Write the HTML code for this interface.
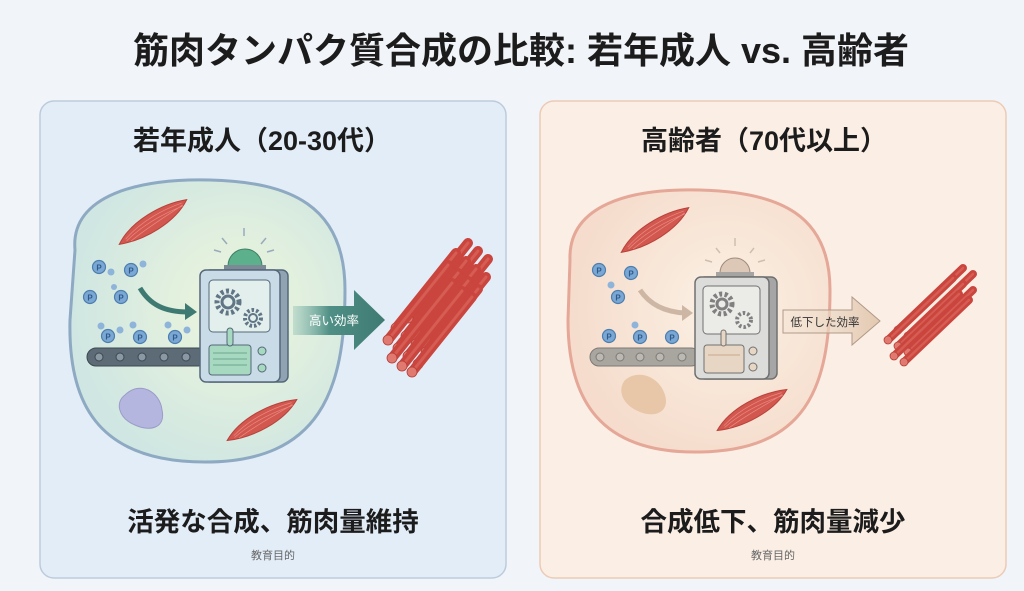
<!DOCTYPE html>
<html><head><meta charset="utf-8"><style>
body{margin:0;background:#f1f4f8;}
svg{display:block;font-family:"Liberation Sans","Noto Sans CJK JP",sans-serif;}
</style></head><body>
<svg width="1024" height="591" viewBox="0 0 1024 591" xmlns="http://www.w3.org/2000/svg">
<defs>
<radialGradient id="gL" cx="0.6" cy="0.45" r="0.6"><stop offset="0" stop-color="#eef6dc"/><stop offset="1" stop-color="#cfe6e2"/></radialGradient>
<radialGradient id="gR" cx="0.6" cy="0.45" r="0.6"><stop offset="0" stop-color="#fbf1e4"/><stop offset="1" stop-color="#f5dccc"/></radialGradient>
<linearGradient id="aL" x1="0" x2="1"><stop offset="0" stop-color="#8fc0b4" stop-opacity="0.4"/><stop offset="0.4" stop-color="#4f8f85"/><stop offset="1" stop-color="#3e7a72"/></linearGradient>
<linearGradient id="aR" x1="0" x2="1"><stop offset="0" stop-color="#f3e4d4" stop-opacity="0.4"/><stop offset="1" stop-color="#e2c8b0"/></linearGradient>
<g id="muscle"><path d="M-40,6 C-20,-10 15,-13 40,-6 C20,10 -15,13 -40,6Z" fill="#d2574f" stroke="#b8423b" stroke-width="1"/><path d="M-32,4 C-10,-6 15,-7 34,-5 M-32,6 C-10,-2 15,-3 34,-2 M-28,8 C-5,2 18,0 34,-3" stroke="#e88a80" stroke-width="0.7" fill="none"/></g>
<g id="rod"><line x1="0" y1="0" x2="60" y2="-75" stroke="#c9453d" stroke-width="10" stroke-linecap="round"/><line x1="0" y1="0" x2="60" y2="-75" stroke="#e06d62" stroke-width="3" stroke-linecap="round" opacity="0.6"/><circle r="5" fill="#e07a70" stroke="#b83c35" stroke-width="0.8"/></g>
<g id="rod2"><line x1="0" y1="0" x2="65" y2="-62" stroke="#c9453d" stroke-width="8" stroke-linecap="round"/><line x1="0" y1="0" x2="65" y2="-62" stroke="#e06d62" stroke-width="2.5" stroke-linecap="round" opacity="0.6"/><circle r="4" fill="#e07a70" stroke="#b83c35" stroke-width="0.8"/></g>
<g id="p"><circle r="6.5" fill="#7aa7d4" stroke="#4d7eae" stroke-width="1.2"/><text y="3.5" font-size="8" font-weight="bold" text-anchor="middle" fill="#2d5a88">P</text></g>
</defs>
<rect width="1024" height="591" fill="#f1f4f8"/>
<text x="521" y="63" font-size="36" font-weight="bold" text-anchor="middle" fill="#1c1c1c">筋肉タンパク質合成の比較: 若年成人 vs. 高齢者</text>

<!-- Left panel -->
<rect x="40" y="101" width="466" height="477" rx="14" fill="#e3edf8" stroke="#bccbdc" stroke-width="1.5"/>
<text x="262" y="150" font-size="27" font-weight="bold" text-anchor="middle" fill="#1c1c1c">若年成人（20-30代）</text>
<path d="M75,250 C70,195 140,178 210,180 C290,182 345,205 345,290 C345,390 320,462 205,462 C95,462 68,400 70,320Z" fill="url(#gL)" stroke="#8ea9c2" stroke-width="3"/>
<use href="#muscle" transform="translate(153,222) rotate(-25)"/>
<use href="#muscle" transform="translate(262,420) rotate(-22)"/>
<path d="M125,395 C140,380 160,392 162,410 C166,428 150,432 135,425 C118,418 115,402 125,395Z" fill="#b5b6e0" stroke="#9a9cc8"/>
<use href="#p" transform="translate(99,267)"/><use href="#p" transform="translate(131,270)"/><use href="#p" transform="translate(90,297)"/><use href="#p" transform="translate(121,297)"/>
<circle cx="111" cy="272" r="3.5" fill="#8fb4da"/><circle cx="143" cy="264" r="3.5" fill="#8fb4da"/><circle cx="114" cy="287" r="3" fill="#8fb4da"/>
<use href="#p" transform="translate(108,336)"/><use href="#p" transform="translate(140,337)"/><use href="#p" transform="translate(175,337)"/>
<circle cx="101" cy="326" r="3.5" fill="#8fb4da"/><circle cx="120" cy="330" r="3.5" fill="#8fb4da"/><circle cx="133" cy="325" r="3.5" fill="#8fb4da"/><circle cx="168" cy="325" r="3.5" fill="#8fb4da"/><circle cx="187" cy="330" r="3.5" fill="#8fb4da"/>
<path d="M140,288 C150,305 165,312 188,312" stroke="#3e7a72" stroke-width="5" fill="none"/><path d="M185,303 L197,312 L185,320Z" fill="#3e7a72"/>
<rect x="87" y="348" width="120" height="18" rx="9" fill="#5d6b77" stroke="#3d4852"/>
<g fill="#8a98a4" stroke="#3d4852"><circle cx="99" cy="357" r="4"/><circle cx="120" cy="357" r="4"/><circle cx="142" cy="357" r="4"/><circle cx="164" cy="357" r="4"/><circle cx="186" cy="357" r="4"/></g>
<g stroke="#9ab" stroke-width="1.5"><line x1="244" y1="228" x2="244" y2="236"/><line x1="222" y1="238" x2="227" y2="244"/><line x1="266" y1="238" x2="261" y2="244"/><line x1="214" y1="250" x2="221" y2="252"/><line x1="274" y1="250" x2="267" y2="252"/></g>
<path d="M228,266 A17,17 0 0 1 262,266Z" fill="#5cb08c" stroke="#3f7f66"/>
<rect x="224" y="265" width="42" height="6" fill="#7c8a96"/>
<rect x="204" y="270" width="84" height="112" rx="6" fill="#8fa3b2" stroke="#55687a" stroke-width="1.5"/>
<rect x="200" y="270" width="80" height="112" rx="6" fill="#c8dbe6" stroke="#55687a" stroke-width="1.5"/>
<rect x="209" y="280" width="61" height="52" rx="4" fill="#e3efec" stroke="#55687a"/>
<circle cx="228" cy="302" r="11" fill="none" stroke="#607585" stroke-width="5" stroke-dasharray="3 2.5"/><circle cx="228" cy="302" r="6" fill="none" stroke="#607585" stroke-width="3"/>
<circle cx="253" cy="318" r="8" fill="none" stroke="#607585" stroke-width="4" stroke-dasharray="2.5 2"/><circle cx="253" cy="318" r="4" fill="none" stroke="#607585" stroke-width="2"/>
<rect x="209" y="345" width="42" height="30" rx="3" fill="#a7d8c0" stroke="#55687a"/>
<g stroke="#6ea88e"><line x1="213" y1="353" x2="247" y2="353"/><line x1="213" y1="359" x2="247" y2="359"/><line x1="213" y1="365" x2="247" y2="365"/></g>
<rect x="227" y="328" width="6" height="18" rx="3" fill="#a7d8c0" stroke="#55687a"/>
<circle cx="262" cy="351" r="4" fill="#a7d8c0" stroke="#55687a"/><circle cx="262" cy="368" r="4" fill="#a7d8c0" stroke="#55687a"/>
<path d="M293,306 L354,306 L354,290 L385,320 L354,350 L354,335 L293,335Z" fill="url(#aL)"/>
<text x="334" y="325" font-size="12.5" fill="#fff" text-anchor="middle">高い効率</text>
<g transform="translate(388,338)">
<use href="#rod" x="20" y="-20"/><use href="#rod" x="30" y="-12"/><use href="#rod" x="40" y="-4"/>
<use href="#rod" x="8" y="-10"/><use href="#rod" x="18" y="-2"/><use href="#rod" x="28" y="6"/><use href="#rod" x="38" y="14"/>
<use href="#rod" x="0" y="2"/><use href="#rod" x="10" y="10"/><use href="#rod" x="20" y="18"/><use href="#rod" x="30" y="26"/>
<use href="#rod" x="4" y="20"/><use href="#rod" x="14" y="28"/><use href="#rod" x="24" y="34"/>
</g>
<text x="273" y="531" font-size="26.5" font-weight="bold" text-anchor="middle" fill="#1c1c1c">活発な合成、筋肉量維持</text>
<text x="273" y="559" font-size="11" text-anchor="middle" fill="#666">教育目的</text>

<!-- Right panel -->
<rect x="540" y="101" width="466" height="477" rx="14" fill="#fbeee5" stroke="#eccbb6" stroke-width="1.5"/>
<text x="764" y="150" font-size="27" font-weight="bold" text-anchor="middle" fill="#1c1c1c">高齢者（70代以上）</text>
<path d="M570,260 C568,205 630,188 700,190 C780,192 830,215 830,290 C830,390 805,450 700,452 C600,454 568,400 568,320Z" fill="url(#gR)" stroke="#e5a797" stroke-width="3"/>
<use href="#muscle" transform="translate(655,230) rotate(-25)"/>
<use href="#muscle" transform="translate(752,410) rotate(-22)"/>
<path d="M625,380 C640,368 660,378 665,395 C670,412 655,418 640,412 C622,405 617,390 625,380Z" fill="#e8c6a8"/>
<use href="#p" transform="translate(599,270)"/><use href="#p" transform="translate(631,273)"/><use href="#p" transform="translate(618,297)"/>
<circle cx="611" cy="285" r="3.5" fill="#8fb4da"/>
<use href="#p" transform="translate(609,336)"/><use href="#p" transform="translate(640,337)"/><use href="#p" transform="translate(672,337)"/>
<circle cx="635" cy="325" r="3.5" fill="#8fb4da"/>
<path d="M640,290 C650,305 665,312 685,313" stroke="#cdb7a4" stroke-width="5" fill="none"/><path d="M682,305 L693,313 L682,321Z" fill="#cdb7a4"/>
<rect x="590" y="348" width="110" height="18" rx="9" fill="#a9a6a0" stroke="#7c7a76"/>
<g fill="#bcb9b3" stroke="#7c7a76"><circle cx="600" cy="357" r="4"/><circle cx="620" cy="357" r="4"/><circle cx="640" cy="357" r="4"/><circle cx="660" cy="357" r="4"/><circle cx="682" cy="357" r="4"/></g>
<g stroke="#cdbfae" stroke-width="1.5"><line x1="735" y1="238" x2="735" y2="246"/><line x1="716" y1="248" x2="720" y2="253"/><line x1="754" y1="248" x2="750" y2="253"/><line x1="705" y1="260" x2="712" y2="262"/><line x1="765" y1="260" x2="758" y2="262"/></g>
<path d="M720,273 A15,15 0 0 1 750,273Z" fill="#ddc8b8" stroke="#a08a7a"/>
<rect x="716" y="272" width="38" height="6" fill="#a6a4a2"/>
<rect x="699" y="277" width="78" height="102" rx="6" fill="#a6a6a6" stroke="#707070" stroke-width="1.5"/>
<rect x="695" y="277" width="74" height="102" rx="6" fill="#dcdcda" stroke="#707070" stroke-width="1.5"/>
<rect x="703" y="286" width="57" height="48" rx="4" fill="#ebebe8" stroke="#707070"/>
<circle cx="722" cy="304" r="10" fill="none" stroke="#808080" stroke-width="5" stroke-dasharray="3 2.5"/><circle cx="722" cy="304" r="5" fill="none" stroke="#808080" stroke-width="3"/>
<circle cx="744" cy="320" r="7" fill="none" stroke="#808080" stroke-width="4" stroke-dasharray="2.5 2"/>
<rect x="704" y="345" width="40" height="28" rx="3" fill="#e8d6c4" stroke="#707070"/>
<line x1="708" y1="355" x2="740" y2="355" stroke="#c8a890"/>
<rect x="721" y="330" width="5" height="16" rx="2.5" fill="#e8d6c4" stroke="#707070"/>
<circle cx="753" cy="351" r="4" fill="#e8d6c4" stroke="#707070"/><circle cx="753" cy="367" r="4" fill="#e8d6c4" stroke="#707070"/>
<path d="M783,310 L852,310 L852,297 L880,321 L852,345 L852,333 L783,333Z" fill="url(#aR)" stroke="#b09a88"/>
<text x="825" y="326" font-size="11.5" fill="#333" text-anchor="middle">低下した効率</text>
<g transform="translate(888,340)">
<use href="#rod2" x="10" y="-10"/><use href="#rod2" x="20" y="-4"/>
<use href="#rod2" x="0" y="0"/><use href="#rod2" x="10" y="6"/><use href="#rod2" x="20" y="12"/>
<use href="#rod2" x="6" y="16"/><use href="#rod2" x="16" y="22"/>
</g>
<text x="773" y="531" font-size="26.5" font-weight="bold" text-anchor="middle" fill="#1c1c1c">合成低下、筋肉量減少</text>
<text x="773" y="559" font-size="11" text-anchor="middle" fill="#666">教育目的</text>
</svg>
</body></html>
